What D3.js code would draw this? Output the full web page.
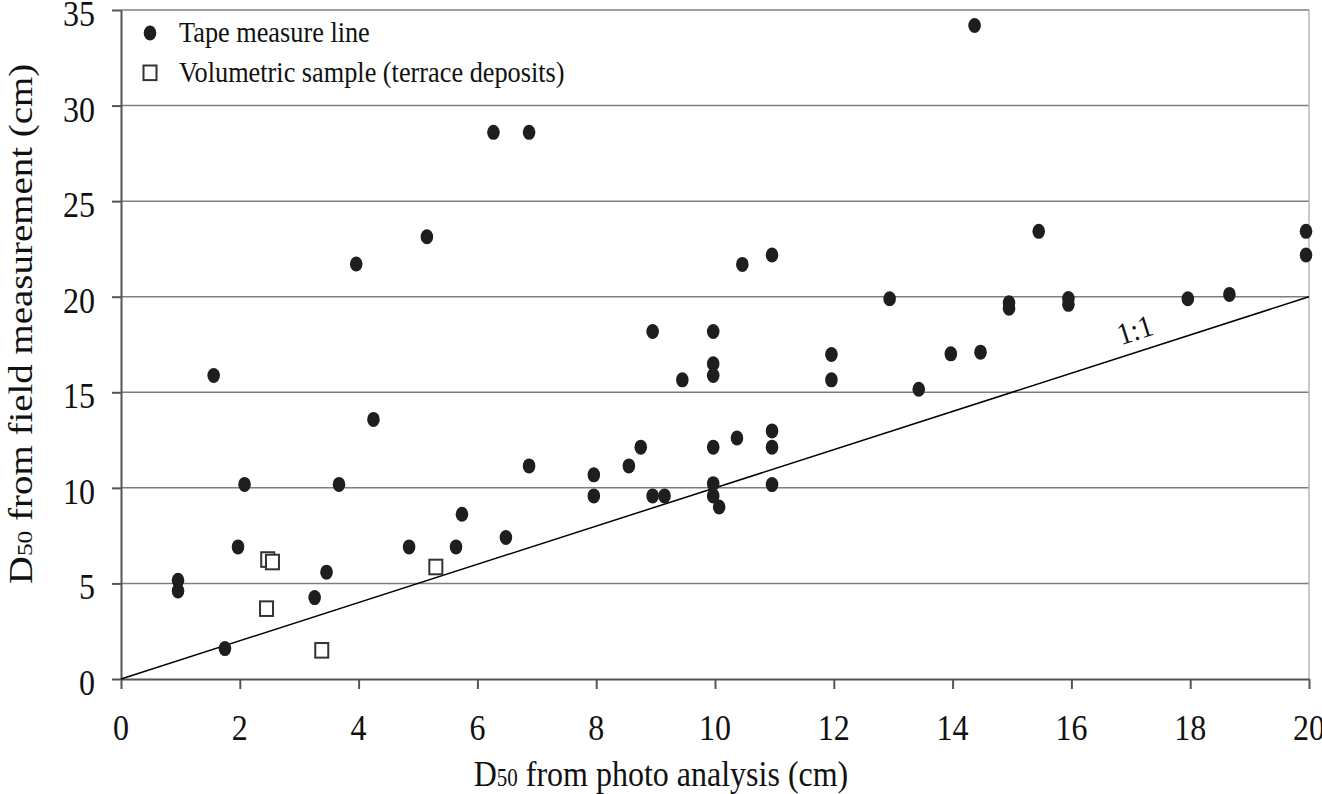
<!DOCTYPE html>
<html><head><meta charset="utf-8">
<script src="https://cdn.jsdelivr.net/npm/d3@7"></script>
<style>
body{margin:0;background:#fff}
text{font-family:"Liberation Serif","Times New Roman",serif;fill:#111}
</style>
</head><body><svg id="c" width="1322" height="794"></svg>
<script>
const tapeX=[0.96,0.96,1.56,1.75,1.97,2.08,3.26,3.46,3.67,4.25,3.96,5.15,4.85,5.64,5.74,6.27,6.87,6.48,6.87,7.96,7.96,8.55,8.75,8.95,9.15,8.95,9.45,9.97,9.97,9.97,9.97,9.97,9.97,10.07,10.37,10.46,10.96,10.96,10.96,10.96,11.96,11.96,12.94,13.43,13.97,14.37,14.47,14.95,14.95,15.45,15.95,15.95,17.96,18.66,19.95,19.95];
const tapeY=[5.17,4.61,15.88,1.59,6.91,10.18,4.26,5.59,10.18,13.58,21.71,23.14,6.91,6.91,8.62,28.6,28.6,7.4,11.15,10.68,9.58,11.15,12.13,9.58,9.58,18.18,15.65,18.18,16.49,15.88,12.13,10.22,9.58,9.0,12.61,21.69,22.18,12.98,12.13,10.17,16.98,15.65,19.89,15.16,17.01,34.19,17.1,19.68,19.4,23.42,19.91,19.6,19.89,20.12,23.42,22.18];
const volX=[2.47,2.55,2.45,3.38,5.3];
const volY=[6.25,6.12,3.68,1.5,5.86];
const xTicks=[0,2,4,6,8,10,12,14,16,18,20];
const yTicks=[0,5,10,15,20,25,30,35];
const legendLabels=["Tape measure line","Volumetric sample (terrace deposits)"];
const oneToOne=[0,20];

const svg=d3.select("#c");
const x=d3.scaleLinear().domain([0,20]).range([121,1309]);
const y=d3.scaleLinear().domain([0,35]).range([679,10]);
const SY=1.15;

// gridlines
svg.append("g").selectAll("line").data(yTicks.filter(d=>d>0)).join("line")
  .attr("x1",x(0)).attr("x2",x(20)).attr("y1",d=>y(d)).attr("y2",d=>y(d))
  .attr("stroke","#7f7f7f").attr("stroke-width",1.5);
// right border
svg.append("line").attr("x1",x(20)).attr("x2",x(20)).attr("y1",y(35)).attr("y2",y(0))
  .attr("stroke","#a6a6a6").attr("stroke-width",1.2);

// axes
const gx=svg.append("g").attr("transform",`translate(0,${y(0)})`)
  .call(d3.axisBottom(x).tickValues(xTicks).tickSize(10).tickSizeOuter(0).tickFormat(""));
const gy=svg.append("g").attr("transform",`translate(${x(0)},0)`)
  .call(d3.axisLeft(y).tickValues(yTicks).tickSize(9).tickSizeOuter(0).tickFormat(""));
[gx,gy].forEach(g=>{g.selectAll("path,line").attr("stroke","#555").attr("stroke-width",2);});

// tick labels
svg.append("g").selectAll("text").data(xTicks).join("text")
  .attr("transform",d=>`translate(${x(d)},740) scale(1,${SY})`)
  .attr("text-anchor","middle").attr("font-size",32).text(d=>d);
svg.append("g").selectAll("text").data(yTicks).join("text")
  .attr("transform",d=>`translate(95,${y(d)+16}) scale(1,${SY})`)
  .attr("text-anchor","end").attr("font-size",32).text(d=>d);

// 1:1 line
svg.append("line").attr("x1",x(oneToOne[0])).attr("y1",y(oneToOne[0]))
  .attr("x2",x(oneToOne[1])).attr("y2",y(oneToOne[1]))
  .attr("stroke","#000").attr("stroke-width",1.5);
const ang=Math.atan2(y(0)-y(20),x(20)-x(0))*180/Math.PI;
svg.append("text").attr("transform",`translate(${x(17.12)},${y(17.12)-12}) rotate(${-ang}) scale(1,1.1)`)
  .attr("text-anchor","middle").attr("font-size",28).text("1:1");

// tape points
svg.append("g").selectAll("ellipse").data(tapeX.map((d,i)=>[d,tapeY[i]])).join("ellipse")
  .attr("cx",d=>x(d[0])).attr("cy",d=>y(d[1])).attr("rx",6.3).attr("ry",7.5).attr("fill","#1e1e1e");
// volumetric squares
svg.append("g").selectAll("rect").data(volX.map((d,i)=>[d,volY[i]])).join("rect")
  .attr("x",d=>x(d[0])-6.5).attr("y",d=>y(d[1])-7.3).attr("width",13).attr("height",14.6)
  .attr("fill","#fff").attr("stroke","#333").attr("stroke-width",2);

// legend
const lg=svg.append("g");
lg.append("ellipse").attr("cx",150).attr("cy",33).attr("rx",6.3).attr("ry",7.5).attr("fill","#1e1e1e");
lg.append("rect").attr("x",143.5).attr("y",65.5).attr("width",13).attr("height",14.6)
  .attr("fill","#fff").attr("stroke","#333").attr("stroke-width",2);
lg.selectAll("text").data(legendLabels).join("text")
  .attr("transform",(d,i)=>`translate(179,${[41.5,81.5][i]}) scale(1,1.1)`)
  .attr("font-size",26.3).text(d=>d);

// axis titles
const xt=svg.append("text").attr("transform",`translate(661,786) scale(1,${SY})`)
  .attr("text-anchor","middle").attr("font-size",32);
xt.append("tspan").text("D");
xt.append("tspan").attr("font-size",21).text("50");
xt.append("tspan").text(" from photo analysis (cm)");

const yt=svg.append("text").attr("transform",`translate(32,324) rotate(-90) scale(1.18,1)`)
  .attr("text-anchor","middle").attr("font-size",33);
yt.append("tspan").text("D");
yt.append("tspan").attr("font-size",21.5).text("50");
yt.append("tspan").text(" from field measurement (cm)");
</script>
</body></html>
